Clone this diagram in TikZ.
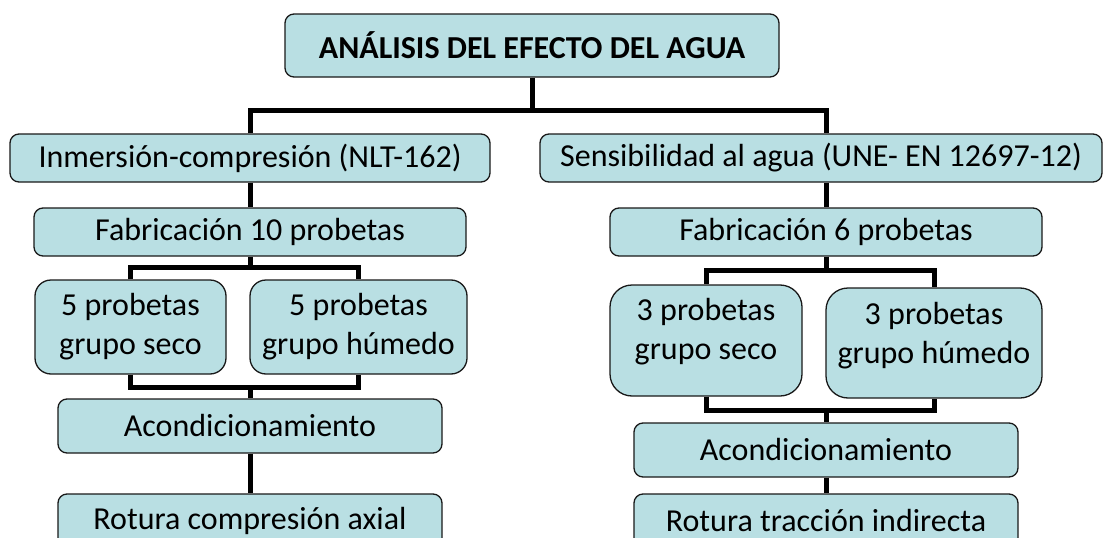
\documentclass[tikz,border=0pt]{standalone}
\usepackage{fontspec}
\setmainfont{Carlito}
\definecolor{boxfill}{HTML}{B9DFE3}
\begin{document}
\begin{tikzpicture}[x=1pt,y=-1pt,
  box/.style={draw=black!90, line width=1.3pt, fill=boxfill, rounded corners=9pt,
    inner sep=0pt, align=center, font=\fontsize{32}{39}\selectfont},
  conn/.style={line width=5pt, black, line join=miter}]
\useasboundingbox (0,0) rectangle (1104,538);
\clip (0,0) rectangle (1104,538);
\coordinate (j1) at (532,110);
\coordinate (k1) at (250,267);
\coordinate (k2) at (250,387);
\coordinate (m1) at (826,270);
\coordinate (m2) at (826,410);
% nodes
\node[box, minimum width=494pt, minimum height=63pt, font=\fontsize{32}{38}\selectfont\bfseries] (title) at (532,45.5) {ANÁLISIS DEL EFECTO DEL AGUA};
\node[box, minimum width=480pt, minimum height=48pt] (inm) at (250,158) {Inmersión-compresión (NLT-162)};
\node[box, minimum width=562pt, minimum height=48pt] (sen) at (821,158) {Sensibilidad al agua (UNE- EN 12697-12)};
\node[box, minimum width=432pt, minimum height=48pt] (fab10) at (250,232) {Fabricación 10 probetas};
\node[box, minimum width=432pt, minimum height=48pt] (fab6) at (826,232) {Fabricación 6 probetas};
\node[box, rounded corners=16pt, minimum width=191pt, minimum height=94pt] (s5) at (130.5,327) {5 probetas\\grupo seco};
\node[box, rounded corners=16pt, minimum width=217pt, minimum height=94pt] (h5) at (358.5,327) {5 probetas\\grupo húmedo};
\node[box, rounded corners=22pt, minimum width=192pt, minimum height=111pt, text depth=24pt] (s3) at (706,340.5) {3 probetas\\grupo seco};
\node[box, rounded corners=22pt, minimum width=216pt, minimum height=110pt, text depth=20pt] (h3) at (934,343) {3 probetas\\grupo húmedo};
\node[box, minimum width=384pt, minimum height=54pt] (ac1) at (250,426) {Acondicionamiento};
\node[box, minimum width=384pt, minimum height=54pt] (ac2) at (826,450) {Acondicionamiento};
\node[box, minimum width=384pt, minimum height=54pt] (ro1) at (250,521) {Rotura compresión axial};
\node[box, minimum width=384pt, minimum height=54pt] (ro2) at (826,521) {Rotura tracción indirecta};
% connectors
\draw[conn] (title.south) -- (j1);
\draw[conn] (inm.north) |- (j1) -| (fab6 |- sen.north);
\draw[conn] (inm.south) -- (fab10.north);
\draw[conn] (fab6 |- sen.south) -- (fab6.north);
\draw[conn] (fab10.south) -- (k1);
\draw[conn] (s5.north) |- (k1) -| (h5.north);
\draw[conn] (s5.south) |- (k2) -| (h5.south);
\draw[conn] (k2) -- (ac1.north);
\draw[conn] (ac1.south) -- (ro1.north);
\draw[conn] (fab6.south) -- (m1);
\draw[conn] (s3.north) |- (m1) -| (h3.north);
\draw[conn] (s3.south) |- (m2) -| (h3.south);
\draw[conn] (m2) -- (ac2.north);
\draw[conn] (ac2.south) -- (ro2.north);
\end{tikzpicture}
\end{document}
